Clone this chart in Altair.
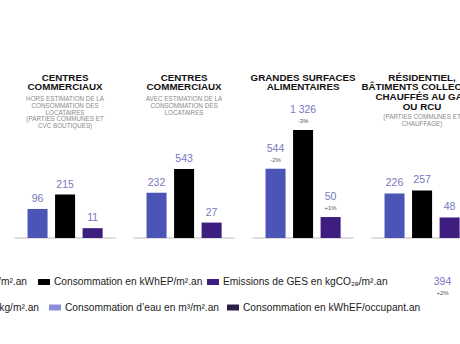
import altair as alt
import pandas as pd

# ---------------- data ----------------
groups = ["G1", "G2", "G3", "G4"]
series = ["EF", "EP", "GES"]
ef_values = [96, 232, 544, 226]
ep_values = [215, 543, 1326, 257]
ges_values = [11, 27, 50, 48]
ef_change = ["", "", "-2%", ""]
ep_change = ["", "", "-3%", ""]
ges_change = ["", "", "+1%", ""]

title_heads = [
    "CENTRES\nCOMMERCIAUX",
    "CENTRES\nCOMMERCIAUX",
    "GRANDES SURFACES\nALIMENTAIRES",
    "RÉSIDENTIEL,\nBÂTIMENTS COLLECTIFS\nCHAUFFÉS AU GAZ\nOU RCU",
]
title_subs = [
    "HORS ESTIMATION DE LA\nCONSOMMATION DES\nLOCATAIRES\n(PARTIES COMMUNES ET\nCVC BOUTIQUES)",
    "AVEC ESTIMATION DE LA\nCONSOMMATION DES\nLOCATAIRES",
    "",
    "(PARTIES COMMUNES ET\nCHAUFFAGE)",
]

legend_labels = [
    "Consommation en kWhEF/m².an",
    "Consommation en kWhEP/m².an",
    "Emissions de GES en kgCO₂ₑ/m².an",
    "Production de déchets en kg/m².an",
    "Consommation d’eau en m³/m².an",
    "Consommation en kWhEF/occupant.an",
]
legend_colors = ["#4b55b5", "#000000", "#3d1e80", "#9a9ab0", "#8d8fd6", "#2b1f48"]

side_value = ["394"]
side_change = ["+2%"]

# ---------------- tables ----------------
rows = []
for g, a, b, c, ca, cb, cc in zip(groups, ef_values, ep_values, ges_values,
                                   ef_change, ep_change, ges_change):
    for s, v, ch in zip(series, (a, b, c), (ca, cb, cc)):
        rows.append({"group": g, "series": s, "value": v,
                     "label": f"{v:,}".replace(",", " "), "change": ch})
bars_df = pd.DataFrame(rows)
titles_df = pd.DataFrame({"group": groups, "head": title_heads, "sub": title_subs})
legend_df = pd.DataFrame({"label": legend_labels, "color": legend_colors})
side_df = pd.DataFrame({"value": side_value, "change": side_change})

FONT = "Liberation Sans"
BAR_COLORS = ["#4b55b5", "#000000", "#3d1e80"]
LABEL_COLOR = "#7678c0"

x_enc = alt.X("group:N", sort=groups, axis=None,
              scale=alt.Scale(range=[14.5, 472.65], paddingInner=0.15, paddingOuter=0))
xo_enc = alt.XOffset("series:N", sort=series,
                     scale=alt.Scale(paddingInner=0.273, paddingOuter=0.473))
y_enc = alt.Y("value:Q", axis=None,
              scale=alt.Scale(type="sqrt", domain=[0, 6440], range=[238, 0]))

base = alt.Chart(bars_df)

baseline = alt.Chart(titles_df).mark_bar(color="#bdbdbd").encode(
    x=x_enc, y=alt.value(237.6), y2=alt.value(238.6))

bars = base.mark_bar().encode(
    x=x_enc, xOffset=xo_enc, y=y_enc, y2=alt.datum(0),
    color=alt.Color("series:N", sort=series, legend=None,
                    scale=alt.Scale(domain=series, range=BAR_COLORS)))

val_plain = base.transform_filter("datum.change == ''").mark_text(
    font=FONT, fontSize=10.5, color=LABEL_COLOR, baseline="alphabetic", dy=-7
).encode(x=x_enc, xOffset=xo_enc, y=y_enc, text="label:N")

val_chg = base.transform_filter("datum.change != ''").mark_text(
    font=FONT, fontSize=10.5, color=LABEL_COLOR, baseline="alphabetic", dy=-17
).encode(x=x_enc, xOffset=xo_enc, y=y_enc, text="label:N")

chg = base.transform_filter("datum.change != ''").mark_text(
    font=FONT, fontSize=6, color="#555555", baseline="alphabetic", dy=-7
).encode(x=x_enc, xOffset=xo_enc, y=y_enc, text="change:N")

heads = alt.Chart(titles_df).mark_text(
    font=FONT, fontSize=9.8, fontWeight="bold", color="#111111",
    baseline="top", lineBreak="\n", lineHeight=9.8
).encode(x=x_enc, y=alt.value(72.5), text="head:N")

subs_a = alt.Chart(titles_df).transform_filter(
    "datum.group == 'G1' || datum.group == 'G2'").mark_text(
    font=FONT, fontSize=6.3, color="#8a8a8a", baseline="top",
    lineBreak="\n", lineHeight=6.8
).encode(x=x_enc, y=alt.value(96), text="sub:N")

subs_b = alt.Chart(titles_df).transform_filter("datum.group == 'G4'").mark_text(
    font=FONT, fontSize=6.3, color="#8a8a8a", baseline="top",
    lineBreak="\n", lineHeight=6.8
).encode(x=x_enc, y=alt.value(114), text="sub:N")

layers = [baseline, bars, val_plain, val_chg, chg, heads, subs_a, subs_b]

# custom legend (layout constants: square left x, row centre y)
LEGEND_LAYOUT = [
    (-160, 282), (38, 282), (207, 282),
    (-160, 307.5), (49, 307.5), (227, 307.5),
]
for i, (lab, col) in enumerate(zip(legend_labels, legend_colors)):
    lx, ly = LEGEND_LAYOUT[i]
    src = alt.Chart(legend_df).transform_filter(alt.datum.label == lab)
    if lx < 0:
        end = 27 if i == 0 else 39
        layers.append(src.mark_text(font=FONT, fontSize=10.2, color="#222222",
                                    align="right", baseline="middle").encode(
            x=alt.value(end), y=alt.value(ly), text="label:N"))
        continue
    layers.append(src.mark_rect(color=col).encode(
        x=alt.value(lx), x2=alt.value(lx + 12),
        y=alt.value(ly - 3), y2=alt.value(ly + 3)))
    layers.append(src.mark_text(font=FONT, fontSize=10.2, color="#222222",
                                align="left", baseline="middle").encode(
        x=alt.value(lx + 16), y=alt.value(ly), text="label:N"))

side = alt.Chart(side_df)
layers.append(side.mark_text(font=FONT, fontSize=10.5, color=LABEL_COLOR,
                             baseline="middle").encode(
    x=alt.value(442.5), y=alt.value(282), text="value:N"))
layers.append(side.mark_text(font=FONT, fontSize=6, color="#555555",
                             baseline="middle").encode(
    x=alt.value(442.5), y=alt.value(293), text="change:N"))

chart = alt.layer(*layers).properties(
    width=460, height=344,
    autosize=alt.AutoSizeParams(type="none"),
    padding=0, background="white"
).configure_view(stroke=None)

chart.save("out.html", embed_options={"renderer": "svg", "actions": False})
